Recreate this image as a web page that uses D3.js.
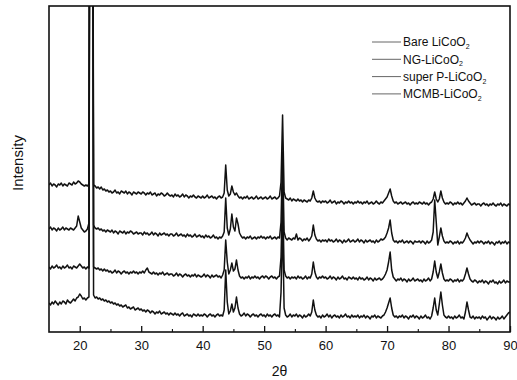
<!DOCTYPE html>
<html>
<head>
<meta charset="utf-8">
<script src="https://cdn.jsdelivr.net/npm/d3@7"></script>
<style>
  body { margin: 0; background: #fff; }
  text { font-family: Arial, "Liberation Sans", sans-serif; fill: #111; }
</style>
</head>
<body>
<svg id="chart" width="517" height="380"></svg>
<script>
// 2-theta grid: 15 .. 90 in 0.25 deg steps, one row per 5 deg
const thetaStart = 15, thetaStep = 0.25;

const bare = [
  147,149,146,148,147,145,148,147,149,146,148,147,146,149,148,147,150,148,149,151,
  150,148,147,146,147,146,148,900,900,147,146,144,145,143,145,142,143,141,142,140,
  141,139,140,142,139,140,138,141,140,139,141,138,140,139,137,140,139,138,140,139,
  138,140,139,137,139,138,140,137,138,139,136,138,137,139,138,136,137,139,137,136,
  137,135,138,136,137,135,136,138,135,137,136,134,136,135,137,135,134,136,135,134,
  136,134,135,137,134,135,136,134,135,133,135,136,134,135,139,167,142,136,138,146,
  140,137,139,136,134,135,133,135,134,136,133,134,135,133,134,136,133,134,135,133,
  134,135,133,134,136,133,134,135,133,134,136,150,217,140,134,133,132,134,131,133,
  132,131,133,131,132,130,132,131,130,132,131,134,141,134,131,130,131,129,131,130,
  131,129,130,132,129,130,131,128,130,129,131,130,128,130,129,131,129,130,128,130,
  129,131,129,130,128,130,129,131,128,129,130,128,129,131,129,128,130,129,131,133,
  135,139,143,136,131,129,130,128,129,130,128,129,130,128,129,127,129,130,128,129,
  128,130,129,128,130,128,129,127,129,130,133,140,133,130,133,141,134,130,128,129,
  128,130,129,127,129,128,130,128,129,127,129,131,134,131,129,127,128,129,127,128,
  128,126,128,129,127,128,126,128,127,129,127,126,128,127,129,126,128,127,126,128,
  127
];

const ng = [
  103,105,102,104,103,101,104,102,103,105,102,104,103,102,104,103,102,104,106,116,
  110,104,102,100,101,103,109,900,900,107,104,103,104,102,103,101,102,100,102,101,
  100,102,99,101,100,98,101,100,99,101,98,100,99,101,100,98,99,100,98,99,
  99,97,100,98,99,97,98,100,97,99,98,96,99,97,98,99,97,98,96,98,
  98,96,97,99,96,97,98,96,97,95,98,96,97,95,96,98,95,96,97,95,
  96,94,97,95,96,94,95,97,94,95,93,95,94,96,100,134,104,97,103,118,
  105,101,114,108,99,96,94,95,93,95,94,96,93,94,95,93,95,94,96,94,
  95,93,95,94,96,93,94,95,93,95,94,110,180,100,94,92,94,93,92,94,
  93,98,92,94,93,91,93,92,94,91,93,96,107,97,93,91,92,90,92,91,
  92,90,93,91,92,90,91,93,90,92,91,89,92,90,91,93,90,91,92,90,
  91,93,90,92,91,89,92,90,91,92,90,91,89,92,90,91,93,92,93,95,
  99,104,112,99,92,90,91,89,91,90,92,89,90,91,89,91,90,88,91,90,
  90,91,89,91,90,88,91,89,90,92,100,132,110,87,95,104,96,91,89,90,
  89,91,90,88,90,89,91,88,90,89,91,94,99,95,92,90,88,90,89,91,
  89,91,90,88,90,89,91,88,90,89,87,90,89,91,88,90,89,91,88,90,
  89
];

const superP = [
  65,63,66,64,65,67,64,65,63,66,64,65,67,64,65,63,66,65,64,66,
  68,66,64,65,63,65,64,900,900,65,64,63,64,62,63,61,63,61,62,60,
  61,59,60,62,59,61,60,58,60,61,59,60,58,60,59,61,59,60,58,60,
  59,61,59,62,64,60,59,58,60,58,59,57,59,58,60,57,58,59,57,58,
  58,56,57,59,56,58,57,55,57,58,56,57,55,57,56,58,55,57,56,55,
  56,58,55,57,56,54,57,55,56,57,55,56,54,57,62,92,70,58,62,69,
  61,63,72,62,56,54,55,53,55,54,56,53,55,54,56,54,55,53,55,56,
  54,56,55,53,55,56,54,55,53,55,56,75,145,62,56,54,55,53,55,54,
  55,53,56,54,55,53,54,56,53,55,54,58,70,60,55,53,55,54,56,54,
  55,53,54,56,53,55,54,52,55,53,54,56,53,54,52,55,54,53,55,53,
  54,52,55,53,54,52,53,55,52,54,53,51,54,52,53,54,52,53,55,58,
  62,70,80,62,55,53,51,53,52,54,51,53,52,50,53,51,52,54,51,52,
  53,51,52,50,53,51,52,54,51,53,60,71,60,54,60,68,59,53,51,52,
  51,53,52,50,52,51,53,50,52,51,53,58,64,58,53,51,50,52,51,49,
  51,50,52,49,51,50,48,51,50,52,49,50,48,51,49,50,52,49,51,50,
  50
];

const mcmb = [
  29,27,30,28,31,29,27,30,28,31,30,28,32,30,29,31,33,31,34,35,
  38,36,33,34,32,34,35,900,900,37,34,35,33,34,32,33,31,32,30,31,
  29,30,28,29,27,28,26,27,25,26,27,24,25,23,24,25,22,23,24,22,
  23,21,22,20,22,21,19,21,20,18,20,19,21,18,19,20,18,19,17,19,
  18,17,19,17,18,16,18,19,16,17,18,16,17,15,18,17,16,18,16,17,
  16,18,17,15,17,18,16,17,15,17,18,16,17,16,22,62,30,18,21,28,
  20,24,35,24,18,16,17,19,16,18,17,15,17,18,16,17,15,17,18,16,
  17,15,18,16,17,15,17,18,16,17,15,40,110,24,17,15,16,18,15,17,
  16,18,15,17,16,14,17,15,16,18,16,20,32,22,17,15,16,14,17,15,
  16,18,15,17,14,16,17,15,16,14,17,15,16,18,15,16,14,17,15,16,
  15,17,14,16,15,17,14,16,15,13,16,15,17,14,16,15,14,16,17,20,
  24,29,34,24,17,15,16,14,16,15,17,14,16,15,13,16,15,17,14,16,
  15,13,16,14,15,17,14,15,13,16,24,34,22,17,28,40,27,17,15,14,
  16,14,15,13,16,14,15,17,14,15,13,20,30,22,15,14,16,13,15,14,
  15,13,16,14,15,12,14,16,13,15,14,12,15,13,14,16,13,15,17,19,
  20
];

const seriesNames = ['Bare LiCoO', 'NG-LiCoO', 'super P-LiCoO', 'MCMB-LiCoO'];
const seriesValues = [bare, ng, superP, mcmb];
const majorTicks = [20, 30, 40, 50, 60, 70, 80, 90];
const minorTicks = [25, 35, 45, 55, 65, 75, 85];

const svg = d3.select('#chart');
const plotLeft = 49, plotRight = 510, plotTop = 6, plotBottom = 332;

const x = d3.scaleLinear().domain([15, 90]).range([plotLeft, plotRight]);
const y = d3.scaleLinear().domain([0, plotBottom - plotTop]).range([plotBottom, plotTop]);

// clip so the very strong reflections run off the top
svg.append('clipPath').attr('id', 'plotClip')
  .append('rect')
  .attr('x', plotLeft).attr('y', plotTop)
  .attr('width', plotRight - plotLeft).attr('height', plotBottom - plotTop);

const line = d3.line()
  .x((d, i) => x(thetaStart + i * thetaStep))
  .y(d => y(d));

svg.append('g')
  .attr('clip-path', 'url(#plotClip)')
  .selectAll('path')
  .data(seriesValues)
  .join('path')
  .attr('d', line)
  .attr('fill', 'none')
  .attr('stroke', '#111')
  .attr('stroke-width', 1.5)
  .attr('stroke-linejoin', 'round');

// bottom axis with inward ticks
const xAxis = svg.append('g').attr('transform', `translate(0,${plotBottom})`);
xAxis.call(d3.axisBottom(x).tickValues(majorTicks).tickSize(-6).tickPadding(9).tickFormat(d3.format('d')));
xAxis.select('.domain').remove();
xAxis.selectAll('.tick line').attr('stroke', '#111').attr('stroke-width', 1.3);
xAxis.selectAll('.tick text').style('font-size', '13px').attr('fill', '#111');

const xMinor = svg.append('g').attr('transform', `translate(0,${plotBottom})`);
xMinor.call(d3.axisBottom(x).tickValues(minorTicks).tickSize(-3).tickFormat(''));
xMinor.select('.domain').remove();
xMinor.selectAll('.tick line').attr('stroke', '#111').attr('stroke-width', 1.1);

// frame
svg.append('rect')
  .attr('x', plotLeft).attr('y', plotTop)
  .attr('width', plotRight - plotLeft).attr('height', plotBottom - plotTop)
  .attr('fill', 'none')
  .attr('stroke', '#111')
  .attr('stroke-width', 1.6);

// axis titles
svg.append('text')
  .attr('x', (plotLeft + plotRight) / 2)
  .attr('y', 376)
  .attr('text-anchor', 'middle')
  .style('font-size', '14px')
  .text('2θ');

svg.append('text')
  .attr('transform', 'translate(23,163) rotate(-90)')
  .attr('text-anchor', 'middle')
  .style('font-size', '15px')
  .text('Intensity');

// legend
const legend = svg.append('g');
const rows = legend.selectAll('g')
  .data(seriesNames)
  .join('g')
  .attr('transform', (d, i) => `translate(372,${42 + i * 17.3})`);

rows.append('line')
  .attr('x1', 0).attr('x2', 29)
  .attr('stroke', '#666')
  .attr('stroke-width', 1);

const label = rows.append('text')
  .attr('x', 31)
  .attr('dy', '0.35em')
  .style('font-size', '12px');
label.append('tspan').text(d => d);
label.append('tspan')
  .attr('dy', 3)
  .style('font-size', '7px')
  .text('2');
</script>
</body>
</html>
